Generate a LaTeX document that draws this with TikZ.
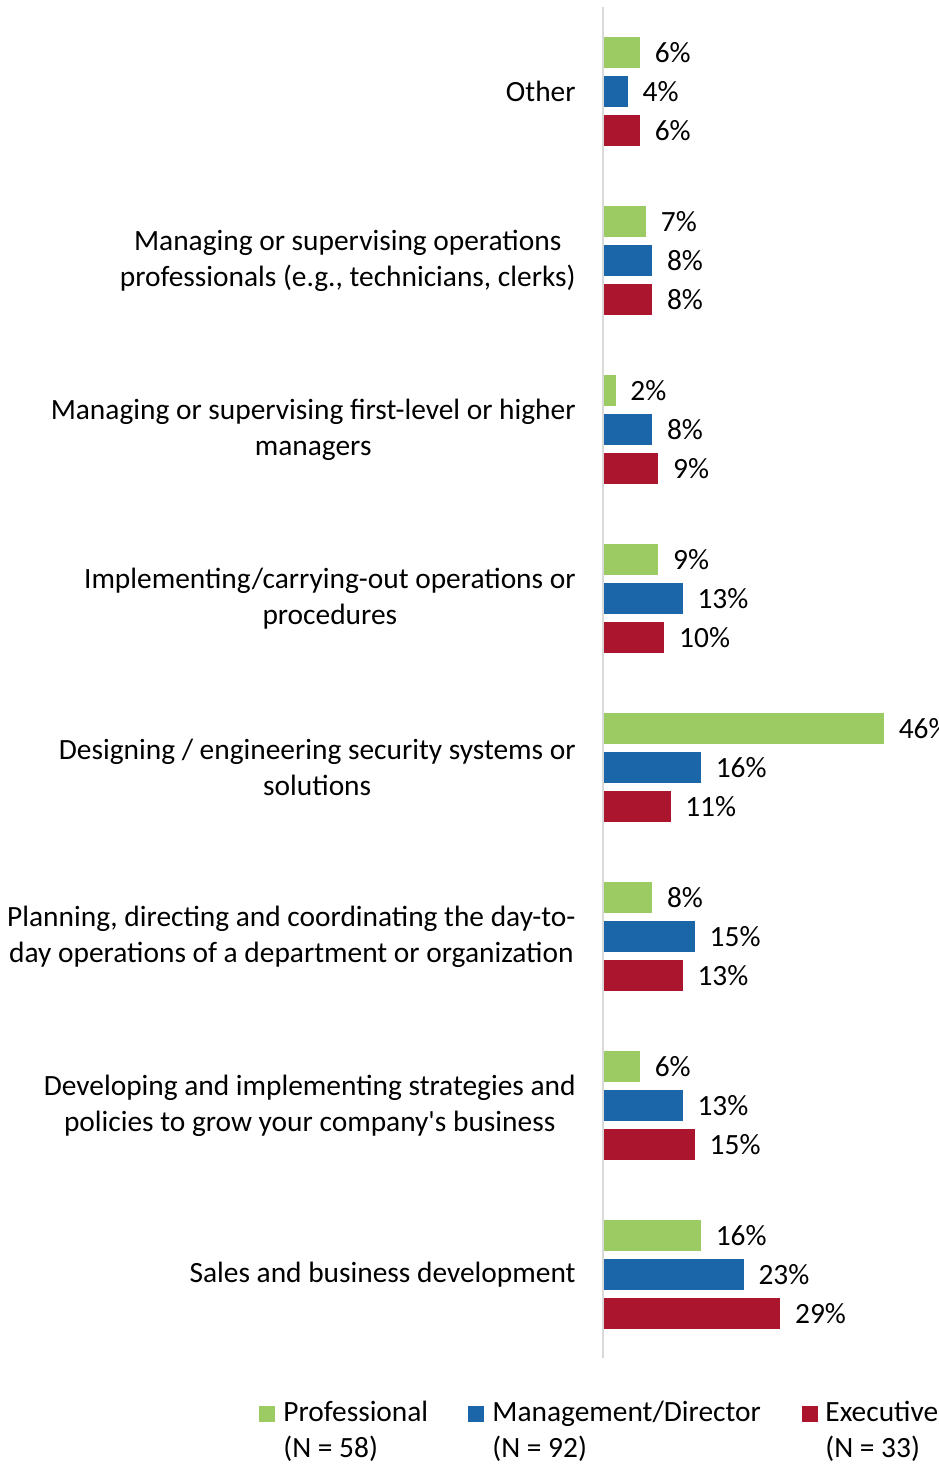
\documentclass[tikz,border=0pt]{standalone}
\usepackage{fontspec}
\setmainfont{Carlito}
\usepackage{tikz}
\usetikzlibrary{positioning}
\definecolor{profgreen}{HTML}{9DCB63}
\definecolor{mgmtblue}{HTML}{1B66A8}
\definecolor{execred}{HTML}{AB162E}
\definecolor{axisgray}{HTML}{D9D9D9}

\begin{document}
\begin{tikzpicture}[x=0.5pt, y=-0.5pt,
    font=\fontsize{14.7}{18}\selectfont,
    bar/.style={minimum height=15.5pt, inner sep=0pt, anchor=west, minimum width=#1*3.05pt},
    pct/.style={inner sep=0pt, anchor=west},
    catlabel/.style={align=center, anchor=east, inner sep=0pt},
    legsq/.style={minimum size=8pt, inner sep=0pt},
    legtxt/.style={align=left, anchor=west, inner sep=0pt}]
    \useasboundingbox (0,0) rectangle (938,1467);
    % bars, one group of three per answer
    \foreach \g/\p/\m/\e/\cat in {
        0/6/4/6/{Other},
        1/7/8/8/{Managing or supervising operations\\professionals (e.g., technicians, clerks)},
        2/2/8/9/{Managing or supervising first-level or higher\\managers},
        3/9/13/10/{Implementing/carrying-out operations or\\procedures},
        4/46/16/11/{Designing / engineering security systems or\\solutions},
        5/8/15/13/{Planning, directing and coordinating the day-to-\\day operations of a department or organization},
        6/6/13/15/{Developing and implementing strategies and\\policies to grow your company\textquotesingle s business},
        7/16/23/29/{Sales and business development}} {
        \node[bar=\p, fill=profgreen] (prof\g) at (603,{52.5+169*\g}) {};
        \node[bar=\m, fill=mgmtblue] (mgmt\g) at (603,{91.5+169*\g}) {};
        \node[bar=\e, fill=execred] (exec\g) at (603,{130.5+169*\g}) {};
        \node[pct, right=7pt of prof\g] (vprof\g) {\p\%};
        \node[pct, right=7pt of mgmt\g] (vmgmt\g) {\m\%};
        \node[pct, right=7pt of exec\g] (vexec\g) {\e\%};
        \node[catlabel] (cat\g) at (576,{91.5+169*\g}) {\cat};
    }
    % axis
    \coordinate (axtop) at (603,7);
    \coordinate (axbot) at (603,1358);
    \draw[axisgray, line width=1pt] (axtop) -- (axbot);
    % legend
    \node[legsq, fill=profgreen] (lgprof) at (267,1414) {};
    \node[legtxt] (ltprof) at (283,1431) {Professional\\(N = 58)};
    \node[legsq, fill=mgmtblue] (lgmgmt) at (476,1414) {};
    \node[legtxt] (ltmgmt) at (492,1431) {Management/Director\\(N = 92)};
    \node[legsq, fill=execred] (lgexec) at (810,1414) {};
    \node[legtxt] (ltexec) at (825,1431) {Executive\\(N = 33)};
\end{tikzpicture}
\end{document}
